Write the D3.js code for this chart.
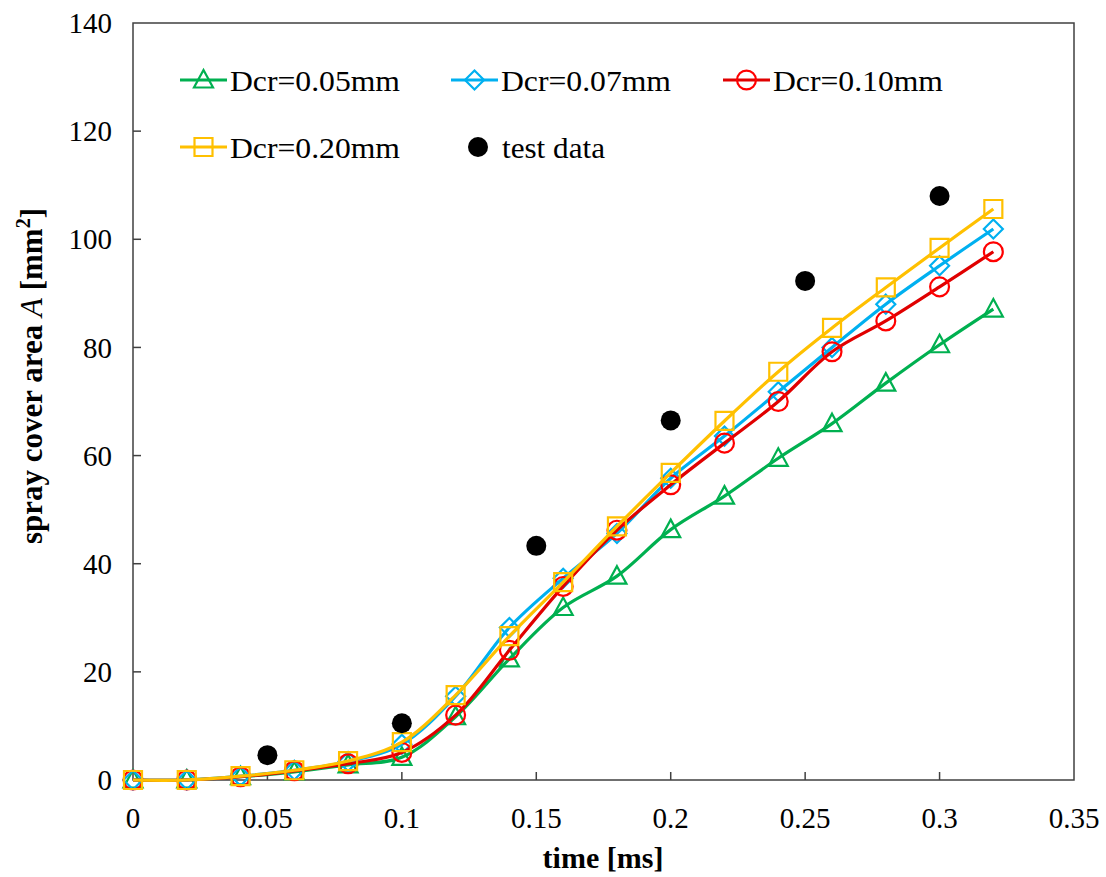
<!DOCTYPE html>
<meta charset="utf-8">
<head>
    <title>spray cover area</title>
</head>
<style>
 body { margin: 0; background: #fff; }
 text { font-family: "Liberation Serif", "Times New Roman", serif; fill: #000; }
 .tick-label { font-size: 29px; }
 .legend-label { font-size: 30px; }
 .axis-title { font-size: 31px; font-weight: bold; }
 .frame { fill: none; stroke: #404040; stroke-width: 1.5px; }
 .tick { stroke: #404040; stroke-width: 1.5px; }
 .series { fill: none; stroke-width: 3.2px; }
 .marker { fill: none; stroke-width: 2.2px; }
</style>
<body>
<div id="chart"></div>
<script src="https://d3js.org/d3.v7.min.js"></script>
<script>

 // time [ms]
 var times = [0, 0.02, 0.04, 0.06, 0.08, 0.1, 0.12, 0.14, 0.16, 0.18, 0.2,
              0.22, 0.24, 0.26, 0.28, 0.3, 0.32];

 var dcr005 = [0, 0, 0.6, 1.5, 2.8, 4.2, 11.7, 22.4, 31.9, 37.7, 46.3,
               52.5, 59.5, 65.9, 73.4, 80.5, 87.1];
 var dcr007 = [0, 0, 0.7, 1.8, 3.4, 6.6, 15.5, 28.2, 37.3, 45.6, 55.8,
               63.6, 71.8, 80.0, 88.0, 95.1, 101.9];
 var dcr010 = [0, 0, 0.6, 1.7, 3.0, 5.1, 12.0, 24.0, 35.8, 46.2, 54.6,
               62.3, 70.0, 79.2, 84.9, 91.2, 97.7];
 var dcr020 = [0, 0, 0.7, 1.8, 3.5, 7.0, 15.7, 26.6, 36.6, 46.9, 56.8,
               66.4, 75.5, 83.6, 91.1, 98.4, 105.6];

 var testTimes = [0.05, 0.1, 0.15, 0.2, 0.25, 0.3];
 var testArea = [4.6, 10.5, 43.3, 66.5, 92.3, 108.0];

 var xTicks = [0, 0.05, 0.1, 0.15, 0.2, 0.25, 0.3, 0.35];
 var yTicks = [0, 20, 40, 60, 80, 100, 120, 140];

 var series = [
     {name: "Dcr=0.05mm", values: dcr005, line: "#00b050", mark: "#00b050", shape: "triangle"},
     {name: "Dcr=0.07mm", values: dcr007, line: "#00b0f0", mark: "#00b0f0", shape: "diamond"},
     {name: "Dcr=0.10mm", values: dcr010, line: "#e00000", mark: "#ff0000", shape: "circle"},
     {name: "Dcr=0.20mm", values: dcr020, line: "#ffc000", mark: "#ffc000", shape: "square"}
 ];

 var width = 1106, height = 877;
 var plotLeft = 133, plotRight = 1074, plotTop = 23, plotBottom = 780;

 var svg = d3.select("#chart").append("svg")
             .attr("width", width)
             .attr("height", height);

 var x = d3.scaleLinear().domain([0, 0.35]).range([plotLeft, plotRight]);
 var y = d3.scaleLinear().domain([0, 140]).range([plotBottom, plotTop]);

 // frame
 svg.append("rect")
    .attr("class", "frame")
    .attr("x", plotLeft).attr("y", plotTop)
    .attr("width", plotRight - plotLeft).attr("height", plotBottom - plotTop);

 // ticks, inward
 svg.append("g").selectAll("line")
    .data(xTicks.slice(1, -1))
    .enter().append("line")
    .attr("class", "tick")
    .attr("x1", x).attr("x2", x)
    .attr("y1", plotBottom).attr("y2", plotBottom - 8);

 svg.append("g").selectAll("line")
    .data(yTicks.slice(1, -1))
    .enter().append("line")
    .attr("class", "tick")
    .attr("x1", plotLeft).attr("x2", plotLeft + 8)
    .attr("y1", y).attr("y2", y);

 svg.append("g").selectAll("text")
    .data(xTicks)
    .enter().append("text")
    .attr("class", "tick-label")
    .attr("x", x)
    .attr("y", plotBottom + 48)
    .attr("text-anchor", "middle")
    .text(function(d) { return d; });

 svg.append("g").selectAll("text")
    .data(yTicks)
    .enter().append("text")
    .attr("class", "tick-label")
    .attr("x", plotLeft - 21)
    .attr("y", y)
    .attr("dy", "0.35em")
    .attr("text-anchor", "end")
    .text(function(d) { return d; });

 // axis titles
 svg.append("text")
    .attr("class", "axis-title")
    .attr("x", 603)
    .attr("y", 868)
    .attr("text-anchor", "middle")
    .style("font-size", "30px")
    .text("time [ms]");

 var yt = svg.append("text")
             .attr("class", "axis-title")
             .attr("transform", "translate(42,376) rotate(-90)")
             .attr("text-anchor", "middle");
 yt.append("tspan").text("spray cover area ");
 yt.append("tspan").attr("font-style", "italic").attr("font-weight", "normal").text("A");
 yt.append("tspan").text(" [mm");
 yt.append("tspan").attr("font-size", "20px").attr("dy", -12).text("2");
 yt.append("tspan").attr("dy", 12).text("]");

 // markers
 function markerPath(shape) {
     if (shape === "triangle") return "M0,-10L9.5,7.5L-9.5,7.5Z";
     if (shape === "diamond") return "M0,-9.5L9.5,0L0,9.5L-9.5,0Z";
     if (shape === "square") return "M-9,-9H9V9H-9Z";
     return d3.symbol(d3.symbolCircle, 280)();
 }

 var line = d3.line()
              .x(function(d, i) { return x(times[i]); })
              .y(function(d) { return y(d); })
              .curve(d3.curveCatmullRom.alpha(0.5));

 series.forEach(function(s) {
     var g = svg.append("g");
     g.append("path")
      .attr("class", "series")
      .attr("stroke", s.line)
      .attr("d", line(s.values));
     g.selectAll("path.marker")
      .data(s.values)
      .enter().append("path")
      .attr("class", "marker")
      .attr("stroke", s.mark)
      .attr("transform", function(d, i) {
          return "translate(" + x(times[i]) + "," + y(d) + ")";
      })
      .attr("d", markerPath(s.shape));
 });

 svg.append("g").selectAll("circle")
    .data(testArea)
    .enter().append("circle")
    .attr("cx", function(d, i) { return x(testTimes[i]); })
    .attr("cy", y)
    .attr("r", 10)
    .attr("fill", "#000");

 // legend
 var legendItems = [
     {s: series[0], lx: 180, ly: 80},
     {s: series[1], lx: 451, ly: 80},
     {s: series[2], lx: 723, ly: 80},
     {s: series[3], lx: 180, ly: 147}
 ];

 legendItems.forEach(function(d) {
     var g = svg.append("g").attr("transform", "translate(" + d.lx + "," + d.ly + ")");
     g.append("line")
      .attr("class", "series")
      .attr("stroke", d.s.line)
      .attr("x1", 0).attr("x2", 47);
     g.append("path")
      .attr("class", "marker")
      .attr("stroke", d.s.mark)
      .attr("fill", "#fff")
      .attr("transform", "translate(23.5,0)")
      .attr("d", markerPath(d.s.shape));
     g.append("text")
      .attr("class", "legend-label")
      .attr("x", 50)
      .attr("dy", "0.35em")
      .attr("textLength", 170)
      .attr("lengthAdjust", "spacingAndGlyphs")
      .text(d.s.name);
 });

 var tg = svg.append("g").attr("transform", "translate(451,147)");
 tg.append("circle").attr("cx", 27).attr("r", 10).attr("fill", "#000");
 tg.append("text")
   .attr("class", "legend-label")
   .attr("x", 51)
   .attr("dy", "0.35em")
   .attr("textLength", 103)
   .attr("lengthAdjust", "spacingAndGlyphs")
   .text("test data");

</script>
</body>
